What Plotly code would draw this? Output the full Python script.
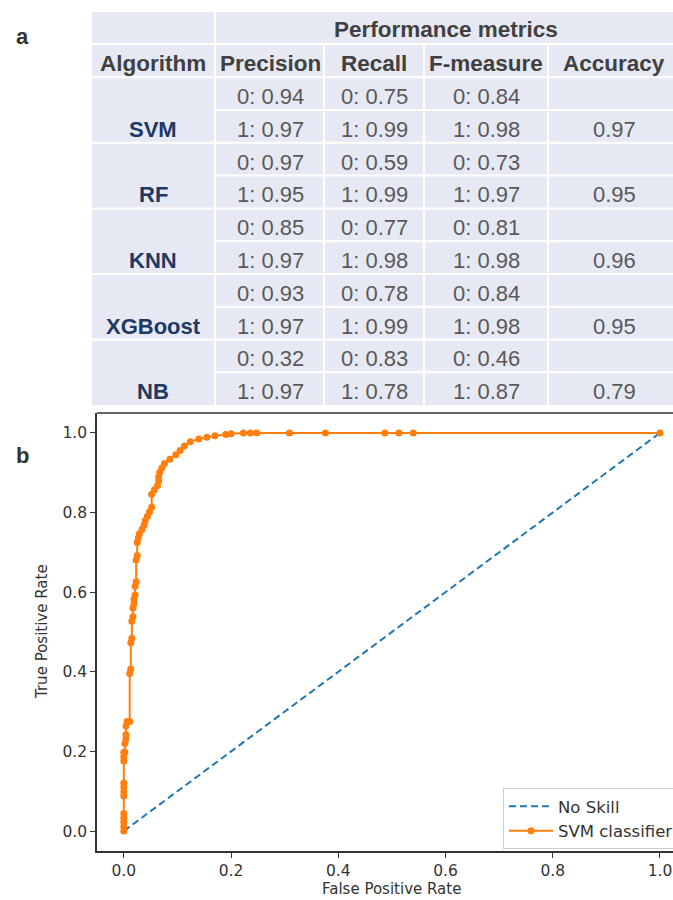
import plotly.graph_objects as go

# ---------------- data ----------------
algorithms = ["SVM", "RF", "KNN", "XGBoost", "NB"]
precision_0 = [0.94, 0.97, 0.85, 0.93, 0.32]
precision_1 = [0.97, 0.95, 0.97, 0.97, 0.97]
recall_0 = [0.75, 0.59, 0.77, 0.78, 0.83]
recall_1 = [0.99, 0.99, 0.98, 0.99, 0.78]
fmeasure_0 = [0.84, 0.73, 0.81, 0.84, 0.46]
fmeasure_1 = [0.98, 0.97, 0.98, 0.98, 0.87]
accuracy = [0.97, 0.95, 0.96, 0.95, 0.79]
metric_headers = ["Precision", "Recall", "F-measure", "Accuracy"]

fpr = [0, 0, 0, 0, 0, 0, 0, 0, 0, 0, 0, 0, 0.002, 0.002, 0.004, 0.004, 0.004,
       0.006, 0.011, 0.011, 0.013, 0.013, 0.015, 0.015, 0.017, 0.017, 0.019,
       0.019, 0.021, 0.021, 0.023, 0.023, 0.025, 0.025, 0.027, 0.029, 0.034,
       0.038, 0.040, 0.044, 0.048, 0.052, 0.052, 0.057, 0.063, 0.065, 0.065,
       0.067, 0.071, 0.076, 0.086, 0.097, 0.105, 0.113, 0.124, 0.140, 0.155,
       0.170, 0.190, 0.200, 0.223, 0.236, 0.248, 0.309, 0.376, 0.487, 0.513,
       0.540, 1.0]
tpr = [0, 0.011, 0.022, 0.033, 0.044, 0.088, 0.099, 0.110, 0.121, 0.176, 0.187,
       0.198, 0.198, 0.220, 0.231, 0.242, 0.264, 0.275, 0.275, 0.396, 0.407,
       0.473, 0.484, 0.527, 0.538, 0.560, 0.571, 0.582, 0.593, 0.615, 0.626,
       0.681, 0.692, 0.725, 0.736, 0.747, 0.758, 0.769, 0.780, 0.791, 0.802,
       0.813, 0.846, 0.857, 0.868, 0.879, 0.890, 0.901, 0.912, 0.923, 0.934,
       0.945, 0.956, 0.967, 0.978, 0.985, 0.989, 0.993, 0.996, 0.998, 1.0, 1.0,
       1.0, 1.0, 1.0, 1.0, 1.0, 1.0, 1.0]
noskill_x = [0, 1]
noskill_y = [0, 1]
x_ticks = [0.0, 0.2, 0.4, 0.6, 0.8, 1.0]
y_ticks = [0.0, 0.2, 0.4, 0.6, 0.8, 1.0]

# ---------------- layout helpers ----------------
W, H = 673, 900


def px(x):
    return x / W


def py(y):
    return 1 - y / H


fig = go.Figure()

fig.add_trace(go.Scatter(
    x=noskill_x, y=noskill_y, mode="lines", name="No Skill",
    line=dict(color="#1f77b4", width=2, dash="7px,4px")))
fig.add_trace(go.Scatter(
    x=fpr, y=tpr, mode="lines+markers", name="SVM classifier",
    line=dict(color="#ff7f0e", width=2),
    marker=dict(color="#ff7f0e", size=7)))

# ---------------- table ----------------
tbl_left, tbl_right, tbl_top = 92, 673, 12
hdr1_bot, hdr2_bot, tbl_bot = 44, 77.3, 405
col_edges = [92, 215, 324, 424, 548, 673]
col_centers = [153, 270, 374, 486, 614]
n_rows = 2 * len(algorithms)
row_h = (tbl_bot - hdr2_bot) / n_rows
bg = "#e6e9f3"
shapes = []
annotations = []


def ann(text, x, y, size, color, family, angle=0):
    annotations.append(dict(text=text, x=px(x), y=py(y), xref="paper", yref="paper",
                            xanchor="center", yanchor="middle", showarrow=False,
                            textangle=angle,
                            font=dict(family=family, size=size, color=color)))


shapes.append(dict(type="rect", xref="paper", yref="paper",
                   x0=px(tbl_left), x1=px(tbl_right), y0=py(tbl_top), y1=py(tbl_bot),
                   fillcolor=bg, line=dict(width=0), layer="below"))
wl = dict(color="white", width=2)
for i, xe in enumerate(col_edges[1:-1]):
    top = tbl_top if i == 0 else hdr1_bot
    shapes.append(dict(type="line", xref="paper", yref="paper",
                       x0=px(xe), x1=px(xe), y0=py(top), y1=py(tbl_bot), line=wl))
shapes.append(dict(type="line", xref="paper", yref="paper",
                   x0=px(tbl_left), x1=px(tbl_right), y0=py(hdr1_bot), y1=py(hdr1_bot), line=wl))
for r in range(n_rows):
    yb = hdr2_bot + r * row_h
    x0 = tbl_left if r % 2 == 0 else col_edges[1]
    shapes.append(dict(type="line", xref="paper", yref="paper",
                       x0=px(x0), x1=px(tbl_right), y0=py(yb), y1=py(yb), line=wl))

tfont = "Liberation Sans, Arial, sans-serif"
ann("<b>Performance metrics</b>", 446, 30, 22.5, "#404040", tfont)
for txt, cx in zip(["Algorithm"] + metric_headers, col_centers):
    ann(f"<b>{txt}</b>", cx, 63, 22.5, "#404040", tfont)
for i, alg in enumerate(algorithms):
    y0c = hdr2_bot + (2 * i + 0.5) * row_h + 3
    y1c = hdr2_bot + (2 * i + 1.5) * row_h + 3
    ann(f"<b>{alg}</b>", col_centers[0], y1c, 22, "#203864", tfont)
    vals0 = [precision_0[i], recall_0[i], fmeasure_0[i]]
    vals1 = [precision_1[i], recall_1[i], fmeasure_1[i]]
    for j in range(3):
        ann(f"0: {vals0[j]:.2f}", col_centers[j + 1], y0c, 22, "#595959", tfont)
        ann(f"1: {vals1[j]:.2f}", col_centers[j + 1], y1c, 22, "#595959", tfont)
    ann(f"{accuracy[i]:.2f}", col_centers[4], y1c, 22, "#595959", tfont)

ann("<b>a</b>", 22, 37, 22, "#333333", tfont)
ann("<b>b</b>", 23, 455, 22, "#333333", tfont)

pfont = "DejaVu Sans, sans-serif"
ann("False Positive Rate", 391, 889, 15, "#333333", pfont)
ann("True Positive Rate", 42, 632, 15, "#333333", pfont, angle=-90)

# plot frame: top line
shapes.append(dict(type="line", xref="paper", yref="paper", x0=px(97), x1=1.0,
                   y0=py(413), y1=py(413), line=dict(color="#333333", width=1.5)))

fig.update_layout(
    width=W, height=H, margin=dict(l=0, r=0, t=0, b=0, autoexpand=False),
    paper_bgcolor="white", plot_bgcolor="white",
    shapes=shapes, annotations=annotations,
    showlegend=True,
    legend=dict(x=px(503), y=py(788), xanchor="left", yanchor="top",
                bgcolor="white", bordercolor="#cccccc", borderwidth=1, itemwidth=44,
                font=dict(family=pfont, size=16.5, color="#333333"), tracegroupgap=0),
    xaxis=dict(domain=[px(97), 1.0], range=[-0.05, 1.0243], tickvals=x_ticks,
               ticktext=[f"{v:.1f}" for v in x_ticks], ticks="outside", ticklen=5,
               tickwidth=1.2, tickcolor="#333333", showline=True, linecolor="#333333",
               linewidth=1.5, showgrid=False, zeroline=False,
               tickfont=dict(family=pfont, size=15.5, color="#333333")),
    yaxis=dict(domain=[py(851), py(413)], range=[-0.05, 1.05], tickvals=y_ticks,
               ticktext=[f"{v:.1f}" for v in y_ticks], ticks="outside", ticklen=5,
               tickwidth=1.2, tickcolor="#333333", showline=True, linecolor="#333333",
               linewidth=1.5, showgrid=False, zeroline=False,
               tickfont=dict(family=pfont, size=15.5, color="#333333")),
)

# remove the browser's default page margin so the figure fills the window
fig.write_html("out.html", config={"displayModeBar": False},
               post_script="document.body.style.margin='0';document.body.style.overflow='hidden';")
